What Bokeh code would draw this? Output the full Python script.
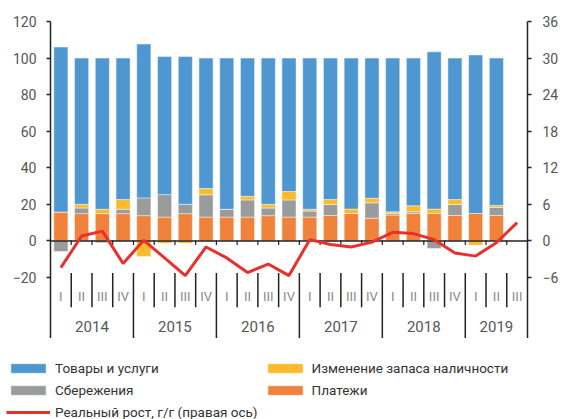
import numpy as np
from bokeh.plotting import figure
from bokeh.layouts import column, row
from bokeh.models import Range1d, LinearAxis, FixedTicker, Legend, LegendItem
from bokeh.core.properties import value
from bokeh.embed import file_html
from bokeh.resources import INLINE

# ---------------- data ----------------
years = ["2014", "2015", "2016", "2017", "2018", "2019"]
quarters = ["I", "II", "III", "IV"] * 5 + ["I", "II", "III"]

payments = [15.8, 14.9, 14.9, 14.9, 13.8, 13.0, 14.9, 13.0, 13.0, 13.0, 13.8,
            13.0, 13.0, 13.9, 15.0, 12.4, 14.1, 15.0, 15.0, 13.9, 15.0, 13.9]
savings = [-5.8, 3.1, -1.0, 2.4, 9.7, 12.3, 5.1, 12.2, 4.3, 9.4, 4.2,
           9.4, 3.3, 6.0, 0.0, 8.4, 0.9, 0.9, -4.2, 6.0, 0.0, 4.4]
cash = [0.0, 2.0, 2.4, 5.3, -8.5, -1.3, -1.3, 3.4, 0.0, 2.0, 2.0,
        4.6, 1.0, 2.7, 2.4, 2.5, 0.9, 3.3, 2.4, 2.7, -2.4, 1.1]
goods = [90.2, 80.0, 82.7, 77.4, 84.2, 75.5, 80.8, 71.4, 82.7, 75.6, 80.0,
         73.0, 82.7, 77.4, 82.6, 76.7, 84.1, 80.8, 86.0, 77.4, 86.7, 80.6]
growth = [-4.4, 0.8, 1.6, -3.7, 0.1, -2.8, -5.7, -1.0, -2.8, -5.2, -3.8, -5.7,
          0.2, -0.6, -1.0, -0.2, 1.4, 1.2, 0.2, -2.0, -2.5, -0.3, 3.0]

left_ticks = [-20, 0, 20, 40, 60, 80, 100, 120]
right_ticks = [-6, 0, 6, 12, 18, 24, 30, 36]

names = ["Товары и услуги", "Изменение запаса наличности", "Сбережения", "Платежи",
         "Реальный рост, г/г (правая ось)"]

# ---------------- style ----------------
C_BLUE = "#4e97d1"
C_GREY = "#9a9b9b"
C_YELLOW = "#fdba2b"
C_ORANGE = "#f0823c"
C_RED = "#e8302d"
DARK = "#222222"
FONT = "Roboto"

n_cat = len(quarters)
n_bar = len(payments)
xc = np.arange(n_cat) + 0.5
xb = xc[:n_bar]

Y0, Y1 = -53.4, 120
p = figure(width=583, height=338,
           x_range=Range1d(0, n_cat), y_range=Range1d(Y0, Y1),
           x_axis_type=None, y_axis_type=None,
           output_backend="svg", toolbar_location=None,
           min_border_left=50, min_border_right=56,
           min_border_top=21, min_border_bottom=0)
p.outline_line_color = None
p.xgrid.visible = False
p.ygrid.visible = False
p.extra_y_ranges = {"right": Range1d(Y0 * 0.3, Y1 * 0.3)}

def style_axis(ax, standoff):
    ax.axis_line_color = DARK
    ax.axis_line_width = 1.5
    ax.major_tick_line_color = DARK
    ax.major_tick_line_width = 1.5
    ax.major_tick_out = 4
    ax.major_tick_in = 0
    ax.minor_tick_line_color = None
    ax.major_label_text_font = FONT
    ax.major_label_text_font_size = "14px"
    ax.major_label_text_color = "#555555"
    ax.major_label_standoff = standoff

la = LinearAxis(ticker=FixedTicker(ticks=left_ticks))
style_axis(la, 10)
p.add_layout(la, "left")
ra = LinearAxis(ticker=FixedTicker(ticks=right_ticks), y_range_name="right")
style_axis(ra, 11)
p.add_layout(ra, "right")

# ---------------- stacked bars ----------------
series = [("pay", payments, C_ORANGE), ("sav", savings, C_GREY),
          ("cash", cash, C_YELLOW), ("goods", goods, C_BLUE)]
pos_base = np.zeros(n_bar)
neg_base = np.zeros(n_bar)
for key, vals, color in series:
    v = np.array(vals, dtype=float)
    bottom = np.where(v >= 0, pos_base, neg_base)
    top = bottom + v
    pos_base = np.where(v >= 0, top, pos_base)
    neg_base = np.where(v < 0, top, neg_base)
    p.vbar(x=xb, bottom=bottom, top=top, width=0.68,
           fill_color=color, line_color="white", line_alpha=0.45, line_width=1)

# zero line and category ticks
p.segment(x0=[0], x1=[n_cat], y0=[0], y1=[0], line_color=DARK, line_width=1.5)
bounds = np.arange(1, n_cat)
p.segment(x0=bounds, x1=bounds, y0=0.4, y1=-2.3, line_color=DARK, line_width=1.2)

qb = [k for k in bounds if k % 4 != 0]
yb = [k for k in bounds if k % 4 == 0]
p.segment(x0=qb, x1=qb, y0=-17.6, y1=-36.3, line_color=DARK, line_width=1.5)
p.segment(x0=yb, x1=yb, y0=-17.6, y1=Y0, line_color=DARK, line_width=1.5)

# red growth line (right axis)
p.line(x=xc, y=growth, y_range_name="right", line_color=C_RED, line_width=3)

# category labels
p.text(x=xc, y=[-30.4] * n_cat, text=quarters, text_font=value(FONT),
       text_font_size=value("13px"), text_color="#8a8a8a",
       text_align="center", text_baseline="middle")
year_x = []
starts = [k for k in range(n_cat) if quarters[k] == "I"]
for i, s in enumerate(starts):
    e = starts[i + 1] if i + 1 < len(starts) else n_cat
    year_x.append((s + e) / 2)
p.text(x=year_x, y=[-46.8] * len(years), text=years, text_font=value(FONT),
       text_font_size=value("15px"), text_color="#555555",
       text_align="center", text_baseline="middle")

# ---------------- legend (separate strip) ----------------
q = figure(width=583, height=81, x_range=Range1d(0, 1), y_range=Range1d(0, 1),
           x_axis_type=None, y_axis_type=None,
           output_backend="svg", toolbar_location=None,
           min_border_left=0, min_border_right=0, min_border_top=0, min_border_bottom=0)
q.outline_line_color = None
q.xgrid.visible = False
q.ygrid.visible = False
# invisible proxies (outside the visible range) that only feed the legend swatches
lr = {}
for key, vals, color in series:
    lr[key] = q.vbar(x=[-5], bottom=[-5], top=[-4], width=0.5, fill_color=color,
                     line_color="white", line_alpha=0.45, line_width=1)
lr["line"] = q.line(x=[-5, -4], y=[-5, -5], line_color=C_RED, line_width=3)

items = [LegendItem(label=names[0], renderers=[lr["goods"]]),
         LegendItem(label=names[1], renderers=[lr["cash"]]),
         LegendItem(label=names[2], renderers=[lr["sav"]]),
         LegendItem(label=names[3], renderers=[lr["pay"]]),
         LegendItem(label=names[4], renderers=[lr["line"]])]
leg = Legend(items=items, location=(6, -1), orientation="horizontal", ncols=2,
             glyph_width=44, glyph_height=12, label_standoff=5, label_height=17,
             spacing=5, padding=0, margin=0, border_line_alpha=0,
             background_fill_alpha=0, label_text_font=FONT,
             label_text_font_size="13.5px", label_text_color="#333333")
q.add_layout(leg, "center")

layout = column(p, row(q))
open("out.html", "w").write(file_html(layout, INLINE))
